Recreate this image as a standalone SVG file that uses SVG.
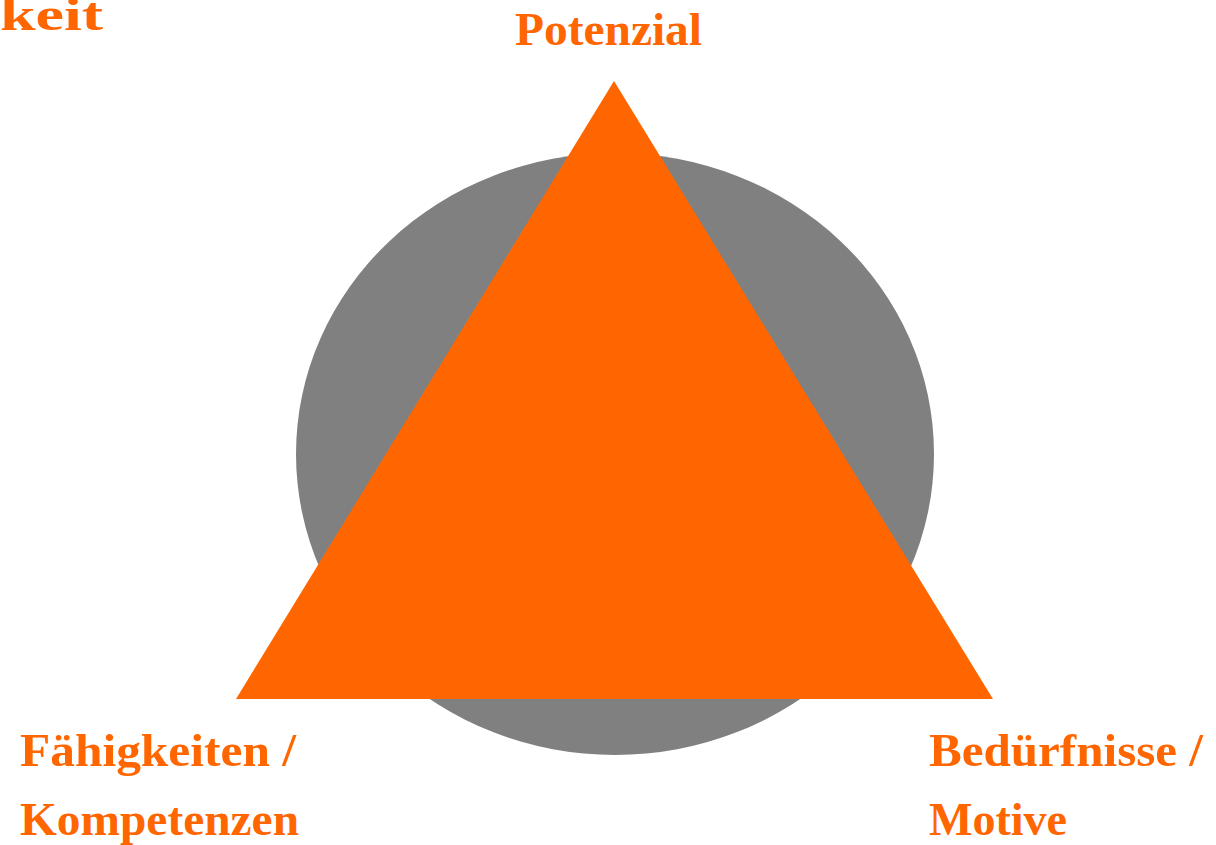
<svg xmlns="http://www.w3.org/2000/svg" width="1216" height="845" viewBox="0 0 1216 845">
<style>
.lbl{font-family:"Liberation Serif","Times New Roman",serif;font-weight:bold;font-size:47px;fill:#FF6600}
</style>
<rect width="1216" height="845" fill="#FFFFFF"/>
<g id="circle"><ellipse cx="615" cy="454" rx="319" ry="301" fill="#808080"/></g>
<g id="triangle"><polygon points="614,81 993,699 236,699" fill="#FF6600"/></g>
<g id="connectors"></g>
<g id="title"><text class="lbl" x="0" y="30" textLength="103" lengthAdjust="spacingAndGlyphs">keit</text></g>
<g id="potenzial"><text class="lbl" x="515" y="45" textLength="187" lengthAdjust="spacingAndGlyphs">Potenzial</text></g>
<g id="faehigkeiten"><text class="lbl" x="20" y="766" textLength="276" lengthAdjust="spacingAndGlyphs">Fähigkeiten /</text><text class="lbl" x="20" y="835" textLength="279" lengthAdjust="spacingAndGlyphs">Kompetenzen</text></g>
<g id="beduerfnisse"><text class="lbl" x="929" y="766" textLength="274" lengthAdjust="spacingAndGlyphs">Bedürfnisse /</text><text class="lbl" x="929" y="835" textLength="138" lengthAdjust="spacingAndGlyphs">Motive</text></g>
</svg>
